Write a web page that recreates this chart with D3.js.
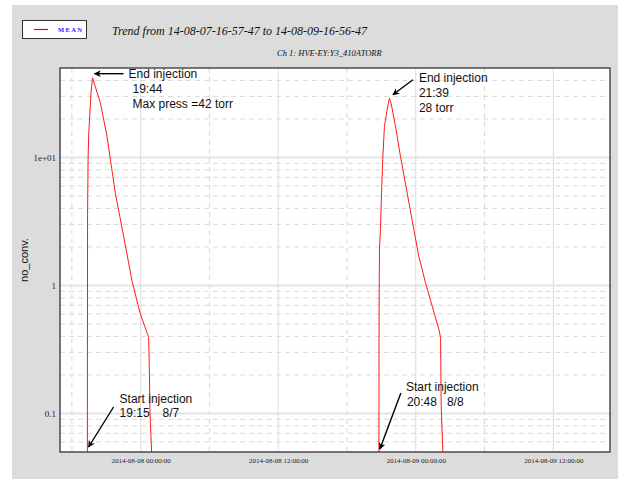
<!DOCTYPE html>
<html><head><meta charset="utf-8">
<script src="https://cdn.jsdelivr.net/npm/d3@7"></script>
<style>body{margin:0;background:#fff}svg{display:block}</style>
</head><body><svg id="c" width="618" height="484"></svg>
<script>
// ---------- data ----------
const seriesName = "MEAN";
const titleText = "Trend from 14-08-07-16-57-47 to 14-08-09-16-56-47";
const channelText = "Ch 1: HVE-EY:Y3_410ATORR";
const yLabel = "no_conv.";
const timeDomain = ["2014-08-07 16:57:47", "2014-08-09 16:56:47"];
const yDomain = [0.05, 50];
const xTickTimes = ["2014-08-08 00:00:00", "2014-08-08 12:00:00", "2014-08-09 00:00:00", "2014-08-09 12:00:00"];
const xMinorTimes = ["2014-08-07 18:00:00", "2014-08-08 06:00:00", "2014-08-08 18:00:00", "2014-08-09 06:00:00"];
const yTickValues = [0.1, 1, 10];
const yTickLabels = ["0.1", "1", "1e+01"];

const meanTimes = [
  "2014-08-07 16:58:00", "2014-08-07 19:21:00", "2014-08-07 19:22:00", "2014-08-07 19:25:00",
  "2014-08-07 19:28:00", "2014-08-07 19:40:00", "2014-08-07 19:48:00", "2014-08-07 20:29:00",
  "2014-08-07 21:04:00", "2014-08-07 21:47:00", "2014-08-07 22:31:00", "2014-08-07 23:15:00",
  "2014-08-07 23:58:00", "2014-08-08 00:42:00", "2014-08-08 00:46:00", "2014-08-08 00:49:00",
  "2014-08-08 01:00:00", "2014-08-08 01:10:00",
  "2014-08-08 20:46:00", "2014-08-08 20:47:00", "2014-08-08 20:48:00", "2014-08-08 20:50:00",
  "2014-08-08 20:55:00", "2014-08-08 21:01:00", "2014-08-08 21:07:00", "2014-08-08 21:16:00",
  "2014-08-08 21:30:00", "2014-08-08 21:42:00", "2014-08-08 21:51:00", "2014-08-08 22:14:00",
  "2014-08-08 22:40:00", "2014-08-08 23:15:00", "2014-08-08 23:50:00", "2014-08-09 00:16:00",
  "2014-08-09 00:25:00", "2014-08-09 00:51:00", "2014-08-09 01:26:00", "2014-08-09 02:01:00",
  "2014-08-09 02:10:00", "2014-08-09 02:13:00", "2014-08-09 02:23:00", "2014-08-09 02:35:00",
  "2014-08-09 16:56:00"
];
const meanValues = [
  0.02, 0.03, 3.5, 10,
  15, 31.8, 42, 26.7,
  14.6, 5.3, 2.42, 1.08,
  0.6, 0.393, 0.2, 0.1,
  0.04, 0.02,
  0.02, 0.03, 0.58, 1.91,
  2.73, 5.3, 9.6, 17.5,
  23.5, 29, 26.5, 17.5,
  10.2, 5.28, 2.73, 1.69,
  1.5, 1.05, 0.69, 0.454,
  0.391, 0.115, 0.045, 0.02,
  0.02
];

const annotationLines = [
  ["End injection", "19:44", "Max press =42 torr"],
  ["End injection", "21:39", "28 torr"],
  ["Start injection", "19:15", "8/7"],
  ["Start injection", "20:48", "8/8"]
];
const annotationAnchorTimes = ["2014-08-07 19:48:00", "2014-08-08 21:42:00", "2014-08-07 19:22:00", "2014-08-08 20:47:00"];
const annotationAnchorValues = [42, 29, 0.05, 0.05];

// ---------- layout ----------
const W = 618, H = 484;
const m = {left: 60, right: 610, top: 68, bottom: 452};
const parse = d3.timeParse("%Y-%m-%d %H:%M:%S");
const svg = d3.select("#c");

const x = d3.scaleTime().domain(timeDomain.map(parse)).range([m.left, m.right]);
const y = d3.scaleLog().domain(yDomain).range([m.bottom, m.top]);

// background panel
svg.append("rect").attr("x", 12).attr("y", 5).attr("width", W - 12).attr("height", 474).attr("fill", "#dcdcdc");
svg.append("rect").attr("x", m.left).attr("y", m.top).attr("width", m.right - m.left).attr("height", m.bottom - m.top).attr("fill", "#fff");

// legend
const lg = svg.append("g");
lg.append("rect").attr("x", 22.5).attr("y", 20.5).attr("width", 64).attr("height", 18).attr("fill", "#fff").attr("stroke", "#333").attr("stroke-width", 1);
lg.append("line").attr("x1", 34).attr("x2", 48).attr("y1", 29.5).attr("y2", 29.5).attr("stroke", "#ff0000").attr("stroke-width", 1.2);
lg.append("text").attr("x", 58).attr("y", 32).text(seriesName)
  .attr("font-family", "Liberation Serif").attr("font-size", 6.5).attr("font-weight", "bold").attr("letter-spacing", 1.4).attr("fill", "#2020ff");

// titles
svg.append("text").attr("x", 112).attr("y", 35).text(titleText)
  .attr("font-family", "Liberation Serif").attr("font-style", "italic").attr("font-size", 12).attr("fill", "#111");
svg.append("text").attr("x", 277).attr("y", 56).text(channelText)
  .attr("font-family", "Liberation Serif").attr("font-style", "italic").attr("font-size", 8.5).attr("fill", "#111");

// grid
const grid = svg.append("g");
const minorY = [];
[0.01, 0.1, 1, 10].forEach(d => { for (let k = 2; k <= 9; k++) { const v = d * k; if (v >= yDomain[0] && v < yDomain[1]) minorY.push(v); } });
grid.selectAll(".hmin").data(minorY).join("line")
  .attr("x1", m.left).attr("x2", m.right).attr("y1", d => y(d)).attr("y2", d => y(d))
  .attr("stroke", "#d9d9d9").attr("stroke-width", 1).attr("stroke-dasharray", "5,4");
grid.selectAll(".vmin").data(xMinorTimes.map(parse)).join("line")
  .attr("x1", d => x(d)).attr("x2", d => x(d)).attr("y1", m.top).attr("y2", m.bottom)
  .attr("stroke", "#d9d9d9").attr("stroke-width", 1).attr("stroke-dasharray", "5,4");
grid.selectAll(".vmaj").data(xTickTimes.map(parse)).join("line")
  .attr("x1", d => x(d)).attr("x2", d => x(d)).attr("y1", m.top).attr("y2", m.bottom)
  .attr("stroke", "#dddddd").attr("stroke-width", 1);
grid.selectAll(".hmaj").data(yTickValues).join("line")
  .attr("x1", m.left).attr("x2", m.right).attr("y1", d => y(d)).attr("y2", d => y(d))
  .attr("stroke", "#e4e4e4").attr("stroke-width", 2);

// axes labels
const xAxis = d3.axisBottom(x).tickValues(xTickTimes.map(parse)).tickSize(0).tickPadding(0)
  .tickFormat(d3.timeFormat("%Y-%m-%d %H:%M:%S"));
const gx = svg.append("g").attr("transform", `translate(0,${m.bottom + 11})`).call(xAxis);
gx.select(".domain").remove();
gx.selectAll("text").attr("font-family", "Liberation Serif").attr("font-size", 7).attr("fill", "#222").attr("dy", 0);

const yAxis = d3.axisLeft(y).tickValues(yTickValues).tickSize(0).tickPadding(4)
  .tickFormat((d, i) => yTickLabels[i]);
const gy = svg.append("g").attr("transform", `translate(${m.left},0)`).call(yAxis);
gy.select(".domain").remove();
gy.selectAll("text").attr("font-family", "Liberation Serif").attr("font-size", 9).attr("fill", "#222");

svg.append("text").attr("transform", `translate(28,${(m.top + m.bottom) / 2}) rotate(-90)`)
  .attr("text-anchor", "middle").text(yLabel)
  .attr("font-family", "Liberation Sans").attr("font-size", 11).attr("fill", "#111");

// data line
svg.append("clipPath").attr("id", "clip").append("rect")
  .attr("x", m.left).attr("y", m.top).attr("width", m.right - m.left).attr("height", m.bottom - m.top);
const pts = meanTimes.map((t, i) => [parse(t), meanValues[i]]);
const line = d3.line().x(d => x(d[0])).y(d => y(d[1]));
svg.append("path").attr("clip-path", "url(#clip)").attr("d", line(pts))
  .attr("fill", "none").attr("stroke", "#ff1a1a").attr("stroke-width", 1);

// frame
svg.append("rect").attr("x", m.left).attr("y", m.top).attr("width", m.right - m.left).attr("height", m.bottom - m.top)
  .attr("fill", "none").attr("stroke", "#333").attr("stroke-width", 1.3);

// annotations
const defs = svg.append("defs");
defs.append("marker").attr("id", "ah").attr("viewBox", "0 0 10 10").attr("refX", 9).attr("refY", 5)
  .attr("markerWidth", 7).attr("markerHeight", 7).attr("orient", "auto-start-reverse").attr("markerUnits", "userSpaceOnUse")
  .append("path").attr("d", "M0,0 L10,5 L0,10 L3,5 z").attr("fill", "#000");

// per-annotation: tip offset from anchor, tail offset from tip, text start offset from tip
const annLayout = [
  {tip: [2, -4], tail: [29, 0], text: [[34, 4], [38, 19], [38, 34]]},
  {tip: [3.5, -3.5], tail: [20, -15], text: [[26, -13], [26, 2], [26, 17]]},
  {tip: [1, -5], tail: [25, -40], text: [[31, -44], [31, -30], [74, -30]]},
  {tip: [1, -3], tail: [21, -56], text: [[26, -58], [27, -43], [67, -43]]}
];
const ann = svg.append("g").attr("font-family", "Liberation Sans").attr("font-size", 12).attr("fill", "#111");
annotationLines.forEach((lines, i) => {
  const L = annLayout[i];
  const ax = x(parse(annotationAnchorTimes[i])), ay = y(annotationAnchorValues[i]);
  const tx = ax + L.tip[0], ty = ay + L.tip[1];
  ann.append("line").attr("x1", tx + L.tail[0]).attr("y1", ty + L.tail[1]).attr("x2", tx).attr("y2", ty)
    .attr("stroke", "#000").attr("stroke-width", 1.4).attr("marker-end", "url(#ah)");
  lines.forEach((s, j) => {
    ann.append("text").attr("x", tx + L.text[j][0]).attr("y", ty + L.text[j][1]).text(s);
  });
});
</script></body></html>
